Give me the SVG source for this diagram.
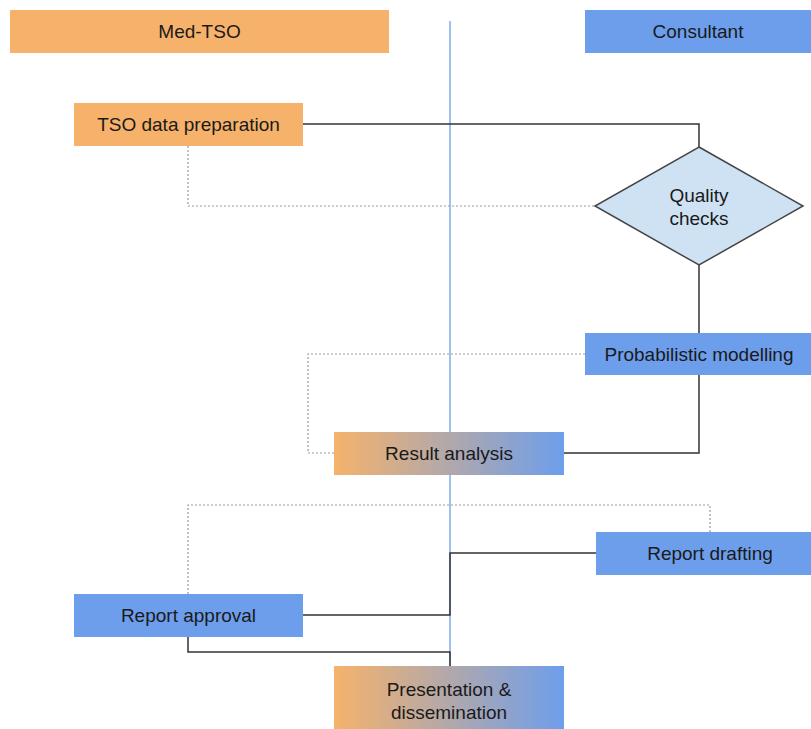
<svg xmlns="http://www.w3.org/2000/svg" width="811" height="729" viewBox="0 0 811 729">
<style>
.or{fill:#F6B26B}
.bl{fill:#6D9EEB}
.gr{fill:url(#g)}
.t{font-family:"Liberation Sans",Arial,sans-serif;font-size:19px;fill:#1a1a1a;text-anchor:middle;dominant-baseline:central}
.s{fill:none;stroke:#333;stroke-width:1.5}
.d{fill:none;stroke:#999;stroke-width:1.2;stroke-dasharray:2,2}
</style>
<defs>
<linearGradient id="g" x1="0" y1="0" x2="1" y2="0">
<stop offset="0" stop-color="#F6B26B"/>
<stop offset="1" stop-color="#6D9EEB"/>
</linearGradient>
</defs>
<rect width="811" height="729" fill="#fff"/>
<line x1="450" y1="21" x2="450" y2="729" stroke="#6D9EEB" stroke-width="1.3"/>
<g id="connectors">
<polyline class="s" points="303,124 699,124 699,147"/>
<polyline class="d" points="188,146 188,206 595,206"/>
<line class="s" x1="699" y1="265" x2="699" y2="333"/>
<polyline class="d" points="585,354 308,354 308,453 334,453"/>
<polyline class="s" points="564,453 699,453 699,375"/>
<polyline class="d" points="710,532 710,505 188,505 188,594"/>
<polyline class="s" points="303,615 450,615 450,553 596,553"/>
<polyline class="s" points="188,637 188,652 450,652 450,666"/>
</g>
<g id="med-tso"><rect class="or" x="10" y="10" width="379" height="43"/><text class="t" x="199.5" y="31.5">Med-TSO</text></g>
<g id="consultant"><rect class="bl" x="585" y="10" width="226" height="43"/><text class="t" x="698" y="31.5">Consultant</text></g>
<g id="tso-data"><rect class="or" x="74" y="103" width="229" height="43"/><text class="t" x="188.5" y="124.5">TSO data preparation</text></g>
<g id="quality"><polygon points="699,147 803,206 699,265 595,206" fill="#CFE2F3" stroke="#444" stroke-width="1.5"/><text class="t" x="699" y="195">Quality</text><text class="t" x="699" y="218">checks</text></g>
<g id="prob"><rect class="bl" x="585" y="333" width="226" height="42"/><text class="t" x="699" y="354">Probabilistic modelling</text></g>
<g id="result"><rect class="gr" x="334" y="432" width="230" height="43"/><text class="t" x="449" y="453.5">Result analysis</text></g>
<g id="drafting"><rect class="bl" x="596" y="532" width="215" height="43"/><text class="t" x="710" y="553.5">Report drafting</text></g>
<g id="approval"><rect class="bl" x="74" y="594" width="229" height="43"/><text class="t" x="188.5" y="615.5">Report approval</text></g>
<g id="presentation"><rect class="gr" x="334" y="666" width="230" height="63"/><text class="t" x="449" y="689">Presentation &amp;</text><text class="t" x="449" y="712">dissemination</text></g>
</svg>
